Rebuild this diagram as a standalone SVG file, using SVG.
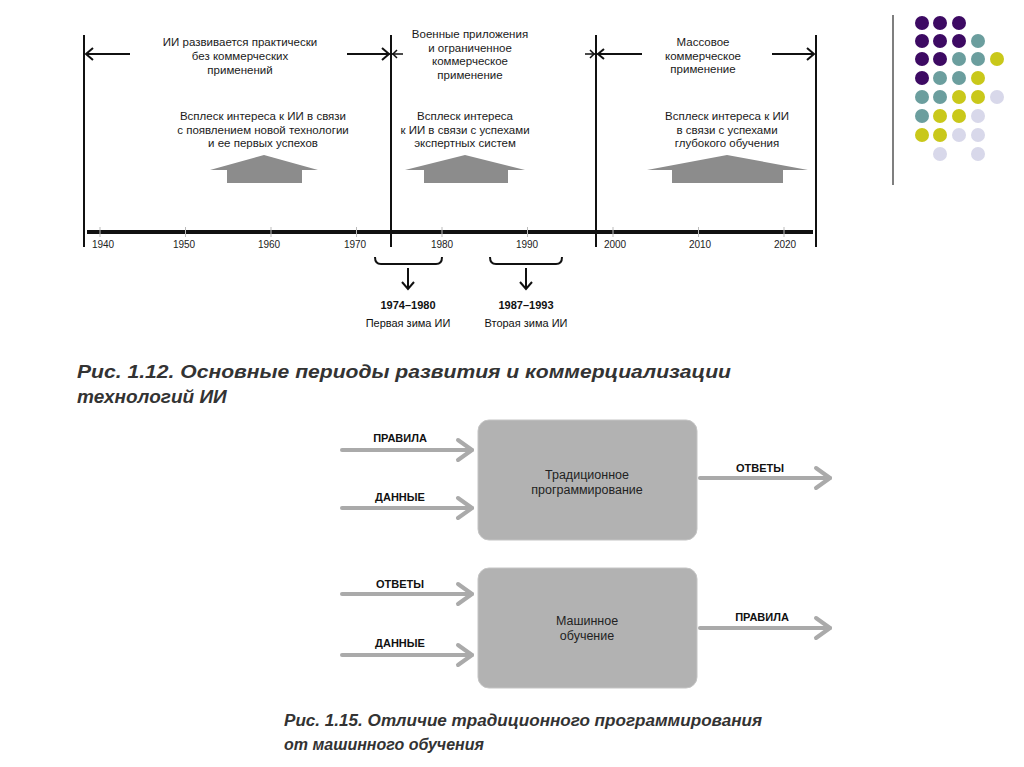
<svg xmlns="http://www.w3.org/2000/svg" width="1024" height="767" viewBox="0 0 1024 767">
<style>
.t{font-family:"Liberation Sans",Arial,sans-serif;fill:#1a1a1a;text-anchor:middle}
.p{font-size:11.5px}
.yr{font-family:"Liberation Sans",sans-serif;font-size:10px;fill:#222;text-anchor:middle}
.w1{font-family:"Liberation Sans",sans-serif;font-size:11px;font-weight:bold;fill:#111;text-anchor:middle}
.w2{font-family:"Liberation Sans",sans-serif;font-size:11px;fill:#111;text-anchor:middle}
.cap{font-family:"Liberation Sans",sans-serif;font-weight:bold;font-style:italic;fill:#333}
.lbl{font-family:"Liberation Sans",sans-serif;font-size:11px;font-weight:bold;fill:#111;text-anchor:middle}
.bx{fill:#b2b2b2;stroke:#c4c4c4;stroke-width:1}
.bt{font-family:"Liberation Sans",sans-serif;font-size:12.5px;fill:#222;text-anchor:middle}
.ga{stroke:#aaaaaa;stroke-width:4;fill:none;stroke-linecap:round;stroke-linejoin:round}
.bl{stroke:#111;fill:none}
.house{fill:#8c8c8c}
.pu{fill:#3d0a63}.te{fill:#6b9e9e}.ye{fill:#c9c81a}.la{fill:#d8d8ea}
</style>

<g id="timeline">
  <g class="bl" stroke-width="2">
    <line x1="84" y1="35" x2="84" y2="247"/>
    <line x1="391" y1="35" x2="391" y2="247"/>
    <line x1="596" y1="35" x2="596" y2="247"/>
    <line x1="816" y1="35" x2="816" y2="247"/>
  </g>
  <line x1="87" y1="232" x2="813" y2="232" stroke="#111" stroke-width="4"/>
  <g stroke="#bbb" stroke-width="1">
    <line x1="100" y1="227" x2="100" y2="237"/><line x1="185.5" y1="227" x2="185.5" y2="237"/>
    <line x1="271" y1="227" x2="271" y2="237"/><line x1="356.5" y1="227" x2="356.5" y2="237"/>
    <line x1="442" y1="227" x2="442" y2="237"/><line x1="527.5" y1="227" x2="527.5" y2="237"/>
    <line x1="613" y1="227" x2="613" y2="237"/><line x1="698.5" y1="227" x2="698.5" y2="237"/>
    <line x1="784" y1="227" x2="784" y2="237"/>
  </g>
  <g>
    <text class="yr" x="103" y="248">1940</text>
    <text class="yr" x="184" y="248">1950</text>
    <text class="yr" x="269" y="248">1960</text>
    <text class="yr" x="355" y="248">1970</text>
    <text class="yr" x="442" y="248">1980</text>
    <text class="yr" x="527" y="248">1990</text>
    <text class="yr" x="615" y="248">2000</text>
    <text class="yr" x="700" y="248">2010</text>
    <text class="yr" x="785" y="248">2020</text>
  </g>
</g>

<g id="period1">
  <g class="bl" stroke-width="2">
    <line x1="86" y1="54" x2="130" y2="54"/>
    <polyline points="93,48 86,54 93,60"/>
    <line x1="347" y1="54" x2="389" y2="54"/>
    <polyline points="382,48 389,54 382,60"/>
  </g>
  <text class="t p" x="240" y="46">ИИ развивается практически</text>
  <text class="t p" x="240" y="60">без коммерческих</text>
  <text class="t p" x="240" y="74">применений</text>
  <text class="t p" x="263" y="120">Всплеск интереса к ИИ в связи</text>
  <text class="t p" x="263" y="133.5">с появлением новой технологии</text>
  <text class="t p" x="263" y="147">и ее первых успехов</text>
  <polygon class="house" points="264,155 318,170 302,170 302,183 227,183 227,170 210,170"/>
</g>

<g id="period2">
  <g class="bl" stroke-width="1.5">
    <line x1="380" y1="54" x2="403" y2="54"/>
    <polyline points="397,50 393,54 397,58"/>
    <line x1="585" y1="54" x2="608" y2="54"/>
    <polyline points="590,50 594,54 590,58"/>
  </g>
  <text class="t p" x="470" y="38">Военные приложения</text>
  <text class="t p" x="470" y="51.5">и ограниченное</text>
  <text class="t p" x="470" y="65">коммерческое</text>
  <text class="t p" x="470" y="78.5">применение</text>
  <text class="t p" x="465" y="120">Всплеск интереса</text>
  <text class="t p" x="465" y="133.5">к ИИ в связи с успехами</text>
  <text class="t p" x="465" y="147">экспертных систем</text>
  <polygon class="house" points="465,155 525,170 508,170 508,183 424,183 424,170 405,170"/>
</g>

<g id="period3">
  <g class="bl" stroke-width="2">
    <line x1="598" y1="54" x2="642" y2="54"/>
    <polyline points="604,49 598,54 604,59"/>
    <line x1="772" y1="54" x2="814" y2="54"/>
    <polyline points="807,48 814,54 807,60"/>
  </g>
  <text class="t p" x="703" y="46">Массовое</text>
  <text class="t p" x="703" y="59.5">коммерческое</text>
  <text class="t p" x="703" y="73">применение</text>
  <text class="t p" x="727" y="120">Всплеск интереса к ИИ</text>
  <text class="t p" x="727" y="133.5">в связи с успехами</text>
  <text class="t p" x="727" y="147">глубокого обучения</text>
  <polygon class="house" points="727,155 808,170 783,170 783,183 672,183 672,170 647,170"/>
</g>

<g id="winter1">
  <path class="bl" stroke-width="2" d="M375,257 Q375,264 381,264 L436,264 Q442,264 442,257"/>
  <line class="bl" stroke-width="2" x1="408" y1="268" x2="408" y2="288"/>
  <polyline class="bl" stroke-width="2" points="402,282 408,289 414,282"/>
  <text class="w1" x="408" y="309">1974–1980</text>
  <text class="w2" x="408" y="327">Первая зима ИИ</text>
</g>
<g id="winter2">
  <path class="bl" stroke-width="2" d="M490,257 Q490,264 496,264 L556,264 Q562,264 562,257"/>
  <line class="bl" stroke-width="2" x1="526" y1="268" x2="526" y2="288"/>
  <polyline class="bl" stroke-width="2" points="520,282 526,289 532,282"/>
  <text class="w1" x="526" y="309">1987–1993</text>
  <text class="w2" x="526" y="327">Вторая зима ИИ</text>
</g>

<g id="decor">
  <line x1="893" y1="15" x2="893" y2="185" stroke="#555" stroke-width="1.5"/>
  <circle class="pu" cx="922" cy="23" r="7"/><circle class="pu" cx="940" cy="23" r="7"/><circle class="pu" cx="959" cy="23" r="7"/>
  <circle class="pu" cx="922" cy="41" r="7"/><circle class="pu" cx="940" cy="41" r="7"/><circle class="pu" cx="959" cy="41" r="7"/><circle class="te" cx="978" cy="41" r="7"/>
  <circle class="pu" cx="922" cy="59" r="7"/><circle class="pu" cx="940" cy="59" r="7"/><circle class="te" cx="959" cy="59" r="7"/><circle class="te" cx="978" cy="59" r="7"/><circle class="ye" cx="997" cy="59" r="7"/>
  <circle class="pu" cx="922" cy="78" r="7"/><circle class="te" cx="940" cy="78" r="7"/><circle class="te" cx="959" cy="78" r="7"/><circle class="ye" cx="978" cy="78" r="7"/>
  <circle class="te" cx="922" cy="97" r="7"/><circle class="te" cx="940" cy="97" r="7"/><circle class="ye" cx="959" cy="97" r="7"/><circle class="ye" cx="978" cy="97" r="7"/><circle class="la" cx="997" cy="97" r="7"/>
  <circle class="te" cx="922" cy="116" r="7"/><circle class="ye" cx="940" cy="116" r="7"/><circle class="ye" cx="959" cy="116" r="7"/><circle class="la" cx="978" cy="116" r="7"/>
  <circle class="ye" cx="922" cy="135" r="7"/><circle class="ye" cx="940" cy="135" r="7"/><circle class="la" cx="959" cy="135" r="7"/><circle class="la" cx="978" cy="135" r="7"/>
  <circle class="la" cx="940" cy="154" r="7"/><circle class="la" cx="978" cy="154" r="7"/>
</g>

<g id="caption1">
  <text class="cap" x="77" y="378" font-size="19" textLength="654" lengthAdjust="spacingAndGlyphs">Рис. 1.12. Основные периоды развития и коммерциализации</text>
  <text class="cap" x="77" y="403" font-size="19">технологий ИИ</text>
</g>

<g id="box-traditional">
  <rect class="bx" x="478" y="420" width="219" height="120" rx="11"/>
  <text class="bt" x="587" y="479">Традиционное</text>
  <text class="bt" x="587" y="494">программирование</text>
</g>
<g id="box-ml">
  <rect class="bx" x="478" y="568" width="219" height="120" rx="11"/>
  <text class="bt" x="587" y="625">Машинное</text>
  <text class="bt" x="587" y="640">обучение</text>
</g>

<g id="connectors">
  <line class="ga" x1="342" y1="450" x2="472" y2="450"/><polyline class="ga" points="458,440 472,450 458,460"/>
  <line class="ga" x1="342" y1="508" x2="472" y2="508"/><polyline class="ga" points="458,498 472,508 458,518"/>
  <line class="ga" x1="700" y1="478" x2="830" y2="478"/><polyline class="ga" points="816,468 830,478 816,488"/>
  <line class="ga" x1="342" y1="594" x2="472" y2="594"/><polyline class="ga" points="458,584 472,594 458,604"/>
  <line class="ga" x1="342" y1="655" x2="472" y2="655"/><polyline class="ga" points="458,645 472,655 458,665"/>
  <line class="ga" x1="700" y1="628" x2="830" y2="628"/><polyline class="ga" points="816,618 830,628 816,638"/>
</g>
<g id="labels">
  <text class="lbl" x="400" y="442">ПРАВИЛА</text>
  <text class="lbl" x="400" y="501">ДАННЫЕ</text>
  <text class="lbl" x="760" y="472">ОТВЕТЫ</text>
  <text class="lbl" x="400" y="588">ОТВЕТЫ</text>
  <text class="lbl" x="400" y="647">ДАННЫЕ</text>
  <text class="lbl" x="762" y="621">ПРАВИЛА</text>
</g>

<g id="caption2">
  <text class="cap" x="284" y="726" font-size="16" textLength="478" lengthAdjust="spacingAndGlyphs">Рис. 1.15. Отличие традиционного программирования</text>
  <text class="cap" x="284" y="750" font-size="16">от машинного обучения</text>
</g>
</svg>
